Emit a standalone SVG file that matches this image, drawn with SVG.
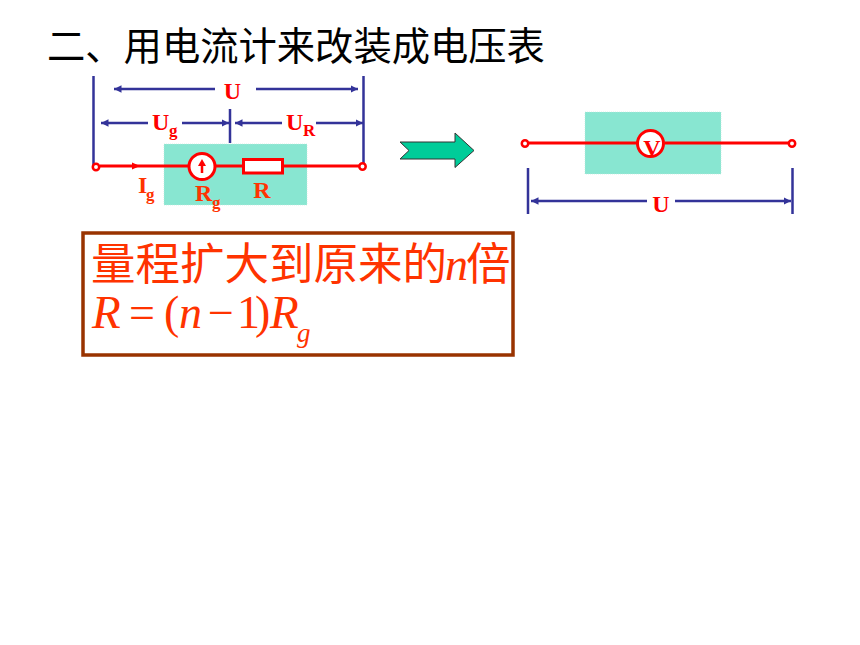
<svg xmlns="http://www.w3.org/2000/svg" width="860" height="645" viewBox="0 0 860 645">
<style>
.w{stroke:#f00;stroke-width:2.8;fill:none}
.b{stroke:#333399;stroke-width:2.5;fill:none}
.d{stroke:#333399;stroke-width:2.5;fill:none;marker-end:url(#a)}
.l{font-family:"Liberation Serif",serif;font-weight:bold;fill:#f00;font-size:24px}
.s{font-family:"Liberation Serif",serif;font-weight:bold;fill:#f00;font-size:17px}
.o2{fill:#f30}
.t{font-family:"Noto Sans CJK SC",sans-serif}
.m{font-family:"Liberation Serif",serif;font-style:italic;fill:#f30}
.r{font-family:"Liberation Serif",serif;fill:#f30;font-size:46px}
.g{fill:#88e6d1;stroke:#bfe8dc;stroke-width:.6;stroke-dasharray:1 1}
.o{fill:#fff;stroke:#f00;stroke-width:2.5}
</style>
<defs><marker id="a" viewBox="0 0 10 10" refX="10" refY="5" markerWidth="3" markerHeight="3" orient="auto" markerUnits="strokeWidth"><path d="M0 0L10 5L0 10Z" fill="#333399"/></marker></defs>
<rect width="860" height="645" fill="#fff"/>
<text x="47" y="60" font-size="38.300" class="t" fill="#000">二、用电流计来改装成电压表</text>
<g id="left-box"><rect class="g" x="164" y="144" width="143" height="61"/></g>
<g id="right-box"><rect class="g" x="585" y="112" width="136" height="62"/></g>
<g id="connectors">
<path class="b" d="M93.500 76V165M363.500 76V165M230 109V143"/>
<path class="d" d="M215 89H114"/><path class="d" d="M256 89H358"/>
<path class="d" d="M148 123H101"/><path class="d" d="M182 123H229"/>
<path class="d" d="M282 123H235"/><path class="d" d="M316 123H363"/>
<path class="d" d="M647 201H531"/><path class="d" d="M675 201H791"/>
<path class="b" d="M528 168V214M792.500 168V214"/>
<path class="w" d="M100 166H188M216 166H243M283 166H359M529 143H637M665 143H789"/>
<path d="M132 162.500L140 166L132 169.500Z" fill="#f00"/>
</g>
<g id="terminals">
<circle class="o" cx="96" cy="167" r="3.200"/><circle class="o" cx="362.500" cy="166.500" r="3.200"/>
<circle class="o" cx="525" cy="143.500" r="3.200"/><circle class="o" cx="792" cy="143.500" r="3.200"/>
</g>
<g id="galvanometer"><circle cx="202" cy="166.500" r="13" fill="#fff" stroke="#f00" stroke-width="3"/><path d="M202 173V165" stroke="#f00" stroke-width="2.500"/><path d="M198 166L202 159L206 166Z" fill="#f00"/></g>
<g id="resistor"><rect x="243.500" y="159.500" width="39" height="13.500" fill="#fff" stroke="#f00" stroke-width="3"/></g>
<g id="voltmeter"><circle cx="650.500" cy="143.500" r="13" fill="#fff" stroke="#f00" stroke-width="3"/><text x="652" y="156" text-anchor="middle" class="l">V</text></g>
<g id="arrow"><path d="M400 142H455V133L474 150.500L455 167.500V159H400L409 150.500Z" fill="#00cc99" stroke="#333" stroke-width="1"/></g>
<g id="labels">
<text x="232.500" y="99" text-anchor="middle" class="l">U</text>
<text x="152" y="130" class="l">U<tspan class="s" x="169" y="136">g</tspan></text>
<text x="286" y="130" class="l">U<tspan class="s" x="303" y="136">R</tspan></text>
<text x="138" y="193" class="l o2">I<tspan class="s o2" x="146" y="200">g</tspan></text>
<text x="195" y="201" class="l o2">R<tspan class="s o2" x="212" y="208">g</tspan></text>
<text x="262" y="198" text-anchor="middle" class="l o2">R</text>
<text x="661" y="212" text-anchor="middle" class="l">U</text>
</g>
<g id="result-box">
<rect x="83" y="233" width="430" height="122" fill="#fff" stroke="#993300" stroke-width="3.500"/>
<text x="91" y="280" font-size="44.500" class="t" fill="#f30">量程扩大到原来的<tspan class="m" font-size="46" dx="-2">n</tspan><tspan dx="-2">倍</tspan><tspan class="m" font-size="47" x="92" y="328">R</tspan><tspan class="r" x="129" y="328">=</tspan><tspan class="r" x="164" y="328">(</tspan><tspan class="m" font-size="46" x="179" y="328">n</tspan><tspan class="r" x="208" y="328">−</tspan><tspan class="r" x="237" y="328">1</tspan><tspan class="r" x="255" y="328">)</tspan><tspan class="m" font-size="47" x="270" y="328">R</tspan><tspan class="m" font-size="27" x="297" y="342">g</tspan></text>
</g>
</svg>
